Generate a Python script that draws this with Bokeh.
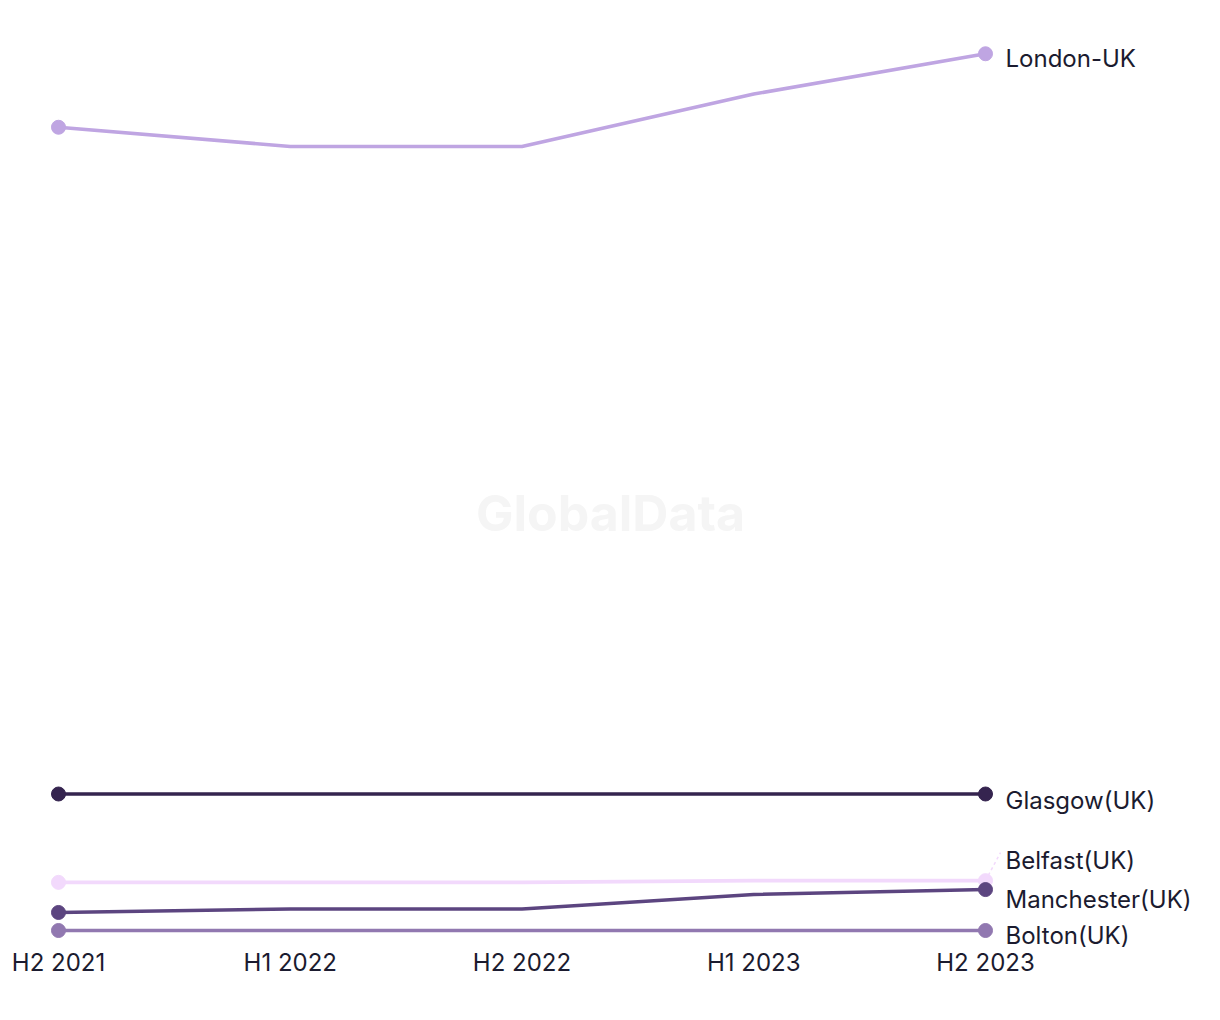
from bokeh.plotting import figure
from bokeh.models import FixedTicker, Range1d, Label, LabelSet, ColumnDataSource
from bokeh.core.properties import value
from bokeh.embed import file_html
from bokeh.resources import INLINE

# ---- data ----
periods = ["H2 2021", "H1 2022", "H2 2022", "H1 2023", "H2 2023"]
london = [45.9, 44.8, 44.8, 47.8, 50.1]
glasgow = [7.8, 7.8, 7.8, 7.8, 7.8]
belfast = [2.75, 2.75, 2.75, 2.85, 2.85]
manchester = [1.03, 1.23, 1.23, 2.06, 2.34]
bolton = [0.0, 0.0, 0.0, 0.0, 0.0]

series_names = ["London-UK", "Glasgow(UK)", "Belfast(UK)", "Manchester(UK)", "Bolton(UK)"]
series_values = [london, glasgow, belfast, manchester, bolton]

# ---- style ----
colors = ["#BFA5E2", "#35244F", "#F2D9FC", "#5C4580", "#9178B0"]
label_dy = [5, 6, -20, 10, 5]   # pixel offsets of end labels (positive = down)
FONT = "Inter"
TEXT_COLOR = "#1B1B2F"
PX_X = 231.75
PX_Y = 17.5
FRAME_BOTTOM = 965

xs = list(range(len(periods)))

p = figure(width=1204, height=1004, output_backend="svg", toolbar_location=None,
           x_range=Range1d(-58 / PX_X, 4 + 219 / PX_X),
           y_range=Range1d((930 - FRAME_BOTTOM) / PX_Y, 930 / PX_Y),
           min_border_left=0, min_border_right=0, min_border_top=0,
           min_border_bottom=1004 - FRAME_BOTTOM)
p.outline_line_color = None
p.background_fill_color = "white"
p.border_fill_color = "white"
p.grid.visible = False
p.yaxis.visible = False

ax = p.xaxis[0]
ax.ticker = FixedTicker(ticks=xs)
ax.major_label_overrides = {i: s for i, s in enumerate(periods)}
ax.axis_line_color = None
ax.major_tick_line_color = None
ax.minor_tick_line_color = None
ax.major_tick_out = 0
ax.major_tick_in = 0
ax.major_label_standoff = 947 - FRAME_BOTTOM
ax.major_label_text_font = FONT
ax.major_label_text_font_size = "24px"
ax.major_label_text_color = TEXT_COLOR

# watermark
p.add_layout(Label(x=(610 - 58) / PX_X, y=(930 - 512) / PX_Y, text="GlobalData",
                   text_align="center", text_baseline="middle",
                   text_font=FONT, text_font_style="bold", text_font_size="50px",
                   text_color="#F5F5F5"))

for name, vals, col in zip(series_names, series_values, colors):
    p.line(xs, vals, line_color=col, line_width=3.6)
    p.scatter([xs[0], xs[-1]], [vals[0], vals[-1]], size=14, fill_color=col, line_color=col)

# faint connector for the displaced Belfast label
bi = series_names.index("Belfast(UK)")
p.segment(x0=[xs[-1]], y0=[belfast[-1]], x1=[xs[-1] + 15 / PX_X], y1=[belfast[-1] + 28 / PX_Y],
          line_color=colors[bi], line_width=1.5, line_dash="3 3")

lab_src = ColumnDataSource(dict(
    x=[xs[-1]] * len(series_names),
    y=[v[-1] for v in series_values],
    text=series_names,
    dy=[-d for d in label_dy],
))
p.add_layout(LabelSet(x="x", y="y", text="text", source=lab_src, x_offset=20, y_offset="dy",
                      text_font=value(FONT), text_font_size=value("24px"),
                      text_color=TEXT_COLOR,
                      text_baseline="middle", text_align="left"))

open("out.html", "w").write(file_html(p, INLINE))
